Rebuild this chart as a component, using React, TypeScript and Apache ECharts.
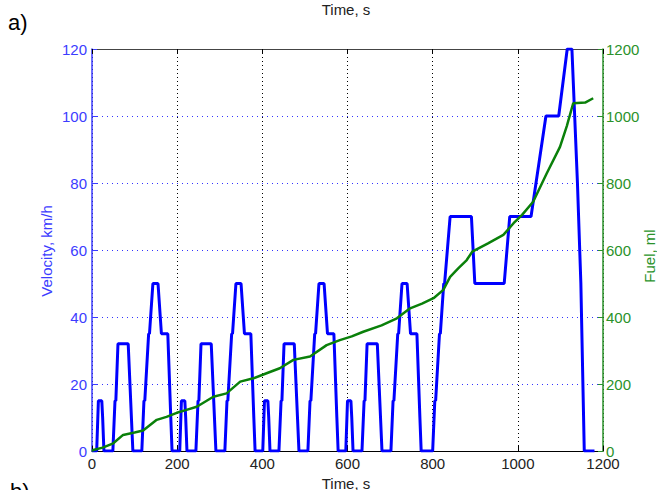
import React, { useEffect, useRef } from "react";
import * as echarts from "echarts";

// Velocity (NEDC: 4 x ECE-15 + EUDC), time in s, speed in km/h
const velocityTime = [
  0, 11, 15, 23, 25, 28, 49, 54, 56, 61, 85, 96, 117, 122, 124, 133, 135, 143, 155, 163, 176, 178, 185, 188,
  195, 206, 210, 218, 220, 223, 244, 249, 251, 256, 280, 291, 312, 317, 319, 328, 330, 338, 350, 358, 371, 373, 380, 383,
  390, 401, 405, 413, 415, 418, 439, 444, 446, 451, 475, 486, 507, 512, 514, 523, 525, 533, 545, 553, 566, 568, 575, 578,
  585, 596, 600, 608, 610, 613, 634, 639, 641, 646, 670, 681, 702, 707, 709, 718, 720, 728, 740, 748, 761, 763, 770, 773,
  780, 800, 805, 807, 816, 818, 826, 828, 841, 891, 899, 968, 981, 1031, 1066, 1096, 1116, 1127, 1140, 1148, 1156, 1180,
];
const velocityValues = [
  0, 0, 15, 15, 10, 0, 0, 15, 15, 32, 32, 0, 0, 15, 15, 35, 35, 50, 50, 35, 35, 35, 10, 0,
  0, 0, 15, 15, 10, 0, 0, 15, 15, 32, 32, 0, 0, 15, 15, 35, 35, 50, 50, 35, 35, 35, 10, 0,
  0, 0, 15, 15, 10, 0, 0, 15, 15, 32, 32, 0, 0, 15, 15, 35, 35, 50, 50, 35, 35, 35, 10, 0,
  0, 0, 15, 15, 10, 0, 0, 15, 15, 32, 32, 0, 0, 15, 15, 35, 35, 50, 50, 35, 35, 35, 10, 0,
  0, 0, 15, 15, 35, 35, 50, 50, 70, 70, 50, 50, 70, 70, 100, 100, 120, 120, 80, 50, 0, 0,
];

// Cumulative fuel, ml
const fuelTime = [
  0, 3, 25, 50, 73, 100, 120, 152, 175, 199, 220, 246, 285, 316, 348, 379, 410, 441, 473, 512, 551, 582, 610,
  637, 680, 716, 747, 775, 802, 825, 841, 860, 880, 893, 930, 966, 990, 1010, 1036, 1068, 1099, 1115, 1130,
  1158, 1177,
];
const fuelValues = [
  0, 3, 10, 23, 48, 55, 61, 93, 102, 114, 122, 132, 162, 172, 207, 217, 232, 247, 272, 282, 316, 331, 342,
  356, 375, 396, 426, 440, 456, 481, 520, 545, 570, 595, 620, 645, 680, 705, 744, 829, 908, 970, 1038,
  1040, 1053,
];

const timeTicks = { min: 0, max: 1200, interval: 200 };
const velocityTicks = { min: 0, max: 120, interval: 20 };
const fuelTicks = { min: 0, max: 1200, interval: 200 };

const FONT = "Liberation Sans, Arial, sans-serif";
const BLUE_AXIS = "#3c3cff";
const GREEN_AXIS = "#2a922a";
const plain = (v: number) => String(v);

export default function App() {
  const ref = useRef<HTMLDivElement>(null);

  useEffect(() => {
    if (!ref.current) return;
    const chart = echarts.init(ref.current, null, { renderer: "svg" });
    const velocityData = velocityTime.map((t, i) => [t, velocityValues[i]]);
    const fuelData = fuelTime.map((t, i) => [t, fuelValues[i]]);

    chart.setOption({
      animation: false,
      backgroundColor: "#ffffff",
      grid: { left: 92, right: 54, top: 49, bottom: 39, containLabel: false },
      xAxis: [
        {
          type: "value",
          position: "bottom",
          ...timeTicks,
          axisLine: { show: true, onZero: false, lineStyle: { color: "#000", width: 1 } },
          axisTick: { show: true, inside: true, length: 5, lineStyle: { color: "#000" } },
          axisLabel: { color: "#222", fontSize: 15, fontFamily: FONT, margin: 5, formatter: plain },
          splitLine: { show: true, lineStyle: { type: [1, 3], color: "#000", width: 1 } },
        },
        {
          type: "value",
          position: "top",
          ...timeTicks,
          axisLine: { show: true, onZero: false, lineStyle: { color: "#444", width: 1 } },
          axisTick: { show: true, inside: true, length: 5, lineStyle: { color: "#000" } },
          axisLabel: { show: false },
          splitLine: { show: false },
        },
      ],
      yAxis: [
        {
          type: "value",
          position: "left",
          ...velocityTicks,
          axisLine: { show: true, onZero: false, lineStyle: { color: BLUE_AXIS, width: 1.5 } },
          axisTick: { show: true, inside: true, length: 5, lineStyle: { color: BLUE_AXIS } },
          axisLabel: { color: BLUE_AXIS, fontSize: 15, fontFamily: FONT, margin: 5, formatter: plain },
          splitLine: { show: true, lineStyle: { type: [1, 4], color: "#3333ff", width: 1 } },
        },
        {
          type: "value",
          position: "right",
          ...fuelTicks,
          axisLine: { show: true, onZero: false, lineStyle: { color: GREEN_AXIS, width: 1.5 } },
          axisTick: { show: true, inside: true, length: 5, lineStyle: { color: GREEN_AXIS } },
          axisLabel: { color: GREEN_AXIS, fontSize: 15, fontFamily: FONT, margin: 3, formatter: plain },
          splitLine: { show: false },
        },
      ],
      series: [
        {
          name: "Velocity",
          type: "line",
          xAxisIndex: 0,
          yAxisIndex: 0,
          data: velocityData,
          showSymbol: false,
          lineStyle: { color: "#0000ff", width: 3 },
          itemStyle: { color: "#0000ff" },
          z: 3,
        },
        {
          name: "Fuel",
          type: "line",
          xAxisIndex: 0,
          yAxisIndex: 1,
          data: fuelData,
          showSymbol: false,
          lineStyle: { color: "#0a800a", width: 2.5 },
          itemStyle: { color: "#0a800a" },
          z: 4,
        },
      ],
      graphic: [
        {
          type: "text",
          left: 8,
          top: 11,
          style: { text: "a)", fontSize: 22, fontFamily: FONT, fill: "#000" },
        },
        {
          type: "text",
          left: 10,
          top: 480,
          style: { text: "b)", fontSize: 22, fontFamily: FONT, fill: "#000" },
        },
        {
          type: "text",
          x: 346,
          y: 9,
          style: { text: "Time, s", fontSize: 15, fontFamily: FONT, fill: "#222", align: "center", verticalAlign: "middle" },
        },
        {
          type: "text",
          x: 346,
          y: 483,
          style: { text: "Time, s", fontSize: 15, fontFamily: FONT, fill: "#222", align: "center", verticalAlign: "middle" },
        },
        {
          type: "text",
          x: 46,
          y: 251,
          rotation: Math.PI / 2,
          style: { text: "Velocity, km/h", fontSize: 15, fontFamily: FONT, fill: BLUE_AXIS, align: "center", verticalAlign: "middle" },
        },
        {
          type: "text",
          x: 649,
          y: 256,
          rotation: Math.PI / 2,
          style: { text: "Fuel, ml", fontSize: 15, fontFamily: FONT, fill: GREEN_AXIS, align: "center", verticalAlign: "middle" },
        },
      ],
    });

    return () => chart.dispose();
  }, []);

  return (
    <div
      ref={ref}
      style={{ position: "absolute", left: 0, top: 0, width: 657, height: 490, background: "#fff" }}
    />
  );
}
